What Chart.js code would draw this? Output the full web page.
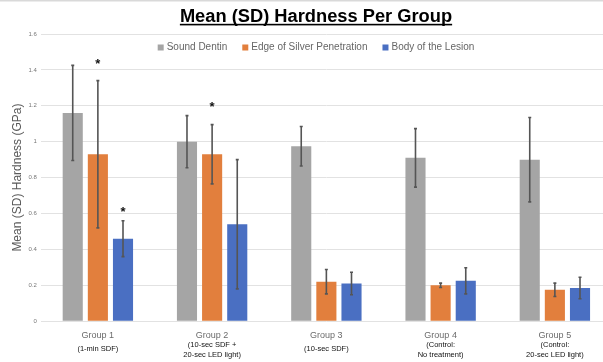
<!DOCTYPE html>
<html>
<head>
<meta charset="utf-8">
<script src="https://cdn.jsdelivr.net/npm/chart.js@4.4.1/dist/chart.umd.min.js"></script>
<style>
  html, body { margin: 0; padding: 0; background: #fff; overflow: hidden; }
  #wrap { width: 612px; height: 362px; }
</style>
</head>
<body>
<div id="wrap"><canvas id="hardnessChart" width="612" height="362"></canvas></div>
<script>
const groups = ["Group 1", "Group 2", "Group 3", "Group 4", "Group 5"];
const groupNotes = [
  ["(1-min SDF)"],
  ["(10-sec SDF +", "20-sec LED light)"],
  ["(10-sec SDF)"],
  ["(Control:", "No treatment)"],
  ["(Control:", "20-sec LED light)"]
];
const seriesNames = ["Sound Dentin", "Edge of Silver Penetration", "Body of the Lesion"];

const soundDentin   = [1.16, 1.00, 0.975, 0.91, 0.90];
const soundDentinSD = [0.265, 0.145, 0.11, 0.163, 0.235];
const edgeSilver    = [0.93, 0.93, 0.22, 0.20, 0.175];
const edgeSilverSD  = [0.41, 0.165, 0.068, 0.012, 0.037];
const bodyLesion    = [0.46, 0.54, 0.21, 0.225, 0.185];
const bodyLesionSD  = [0.10, 0.36, 0.063, 0.073, 0.06];

// where the significance stars sit (value axis), null = no star
const soundDentinStar = [null, null, null, null, null];
const edgeSilverStar  = [1.45, 1.205, null, null, null];
const bodyLesionStar  = [0.625, null, null, null, null];

const yMin = 0, yMax = 1.6, yStep = 0.2;

const errorBars = {
  id: "errorBars",
  afterDatasetsDraw(chart) {
    const ctx = chart.ctx;
    const y = chart.scales.y;
    ctx.save();
    ctx.strokeStyle = "#555";
    ctx.lineWidth = 1.6;
    chart.data.datasets.forEach((ds, i) => {
      const meta = chart.getDatasetMeta(i);
      meta.data.forEach((bar, j) => {
        const v = ds.data[j], sd = ds.sd[j];
        const top = y.getPixelForValue(v + sd);
        const bot = y.getPixelForValue(v - sd);
        ctx.beginPath();
        ctx.moveTo(bar.x, top); ctx.lineTo(bar.x, bot);
        ctx.moveTo(bar.x - 1.5, top); ctx.lineTo(bar.x + 1.5, top);
        ctx.moveTo(bar.x - 1.5, bot); ctx.lineTo(bar.x + 1.5, bot);
        ctx.stroke();
        if (ds.star[j] != null) {
          ctx.fillStyle = "#111";
          ctx.font = "bold 13px 'Liberation Sans'";
          ctx.textAlign = "center";
          ctx.textBaseline = "middle";
          ctx.fillText("*", bar.x, y.getPixelForValue(ds.star[j]) + 3);
        }
      });
    });
    ctx.restore();
  }
};

const titleLegendNotes = {
  id: "titleLegendNotes",
  afterDraw(chart) {
    const ctx = chart.ctx;
    const cx = 316;
    ctx.save();
    // thin frame line along the top
    ctx.fillStyle = "#d9d9d9";
    ctx.fillRect(0, 0, chart.width, 1.5);

    // title
    ctx.font = "bold 18.3px 'Liberation Sans'";
    ctx.fillStyle = "#000";
    ctx.textAlign = "center";
    ctx.textBaseline = "alphabetic";
    const title = "Mean (SD) Hardness Per Group";
    ctx.fillText(title, cx, 22);
    const w = ctx.measureText(title).width;
    ctx.fillRect(cx - w / 2, 23.8, w, 1.6);

    // legend
    ctx.font = "10px 'Liberation Sans'";
    ctx.textBaseline = "middle";
    ctx.textAlign = "left";
    const box = 6, gapBox = 3, gapItem = 15;
    const items = chart.data.datasets.map(ds => ({ label: ds.label, color: ds.backgroundColor, w: ctx.measureText(ds.label).width }));
    const total = items.reduce((s, it) => s + box + gapBox + it.w, 0) + gapItem * (items.length - 1);
    let x = cx - total / 2;
    const ly = 47.5;
    items.forEach(it => {
      ctx.fillStyle = it.color;
      ctx.fillRect(x, ly - box / 2, box, box);
      ctx.fillStyle = "#666";
      ctx.fillText(it.label, x + box + gapBox, ly);
      x += box + gapBox + it.w + gapItem;
    });

    // group notes under the tick labels
    const xs = chart.scales.x;
    ctx.font = "7.5px 'Liberation Sans'";
    ctx.fillStyle = "#111";
    ctx.textAlign = "center";
    groupNotes.forEach((lines, i) => {
      const px = xs.getPixelForValue(i);
      const start = lines.length === 1 ? 349 : 344.5;
      lines.forEach((t, k) => ctx.fillText(t, px, start + k * 10.5));
    });
    ctx.restore();
  }
};

new Chart(document.getElementById("hardnessChart"), {
  type: "bar",
  data: {
    labels: groups,
    datasets: [
      { label: seriesNames[0], data: soundDentin, sd: soundDentinSD, star: soundDentinStar, backgroundColor: "#A5A5A5" },
      { label: seriesNames[1], data: edgeSilver, sd: edgeSilverSD, star: edgeSilverStar, backgroundColor: "#E27F3D" },
      { label: seriesNames[2], data: bodyLesion, sd: bodyLesionSD, star: bodyLesionStar, backgroundColor: "#4A6FC2" }
    ]
  },
  options: {
    responsive: false,
    devicePixelRatio: 1,
    animation: false,
    categoryPercentage: 0.66,
    barPercentage: 0.8,
    layout: { padding: { top: 34, bottom: 12, left: 10, right: 0 } },
    plugins: {
      legend: { display: false },
      title: { display: false },
      tooltip: { enabled: false }
    },
    scales: {
      x: {
        grid: { display: false, drawTicks: false },
        border: { display: false },
        ticks: { color: "#6b6b6b", font: { family: "Liberation Sans", size: 9 }, padding: 9 }
      },
      y: {
        min: yMin,
        max: yMax,
        border: { display: false },
        grid: { color: "#e2e2e2", lineWidth: 1, drawTicks: false },
        ticks: {
          stepSize: yStep,
          padding: 4,
          color: "#777",
          font: { family: "Liberation Sans", size: 6 },
          callback: v => String(Math.round(v * 10) / 10)
        },
        title: {
          display: true,
          text: "Mean (SD) Hardness (GPa)",
          color: "#595959",
          font: { family: "Liberation Sans", size: 12 },
          padding: { top: 0, bottom: 0 }
        }
      }
    }
  },
  plugins: [errorBars, titleLegendNotes]
});
</script>
</body>
</html>
